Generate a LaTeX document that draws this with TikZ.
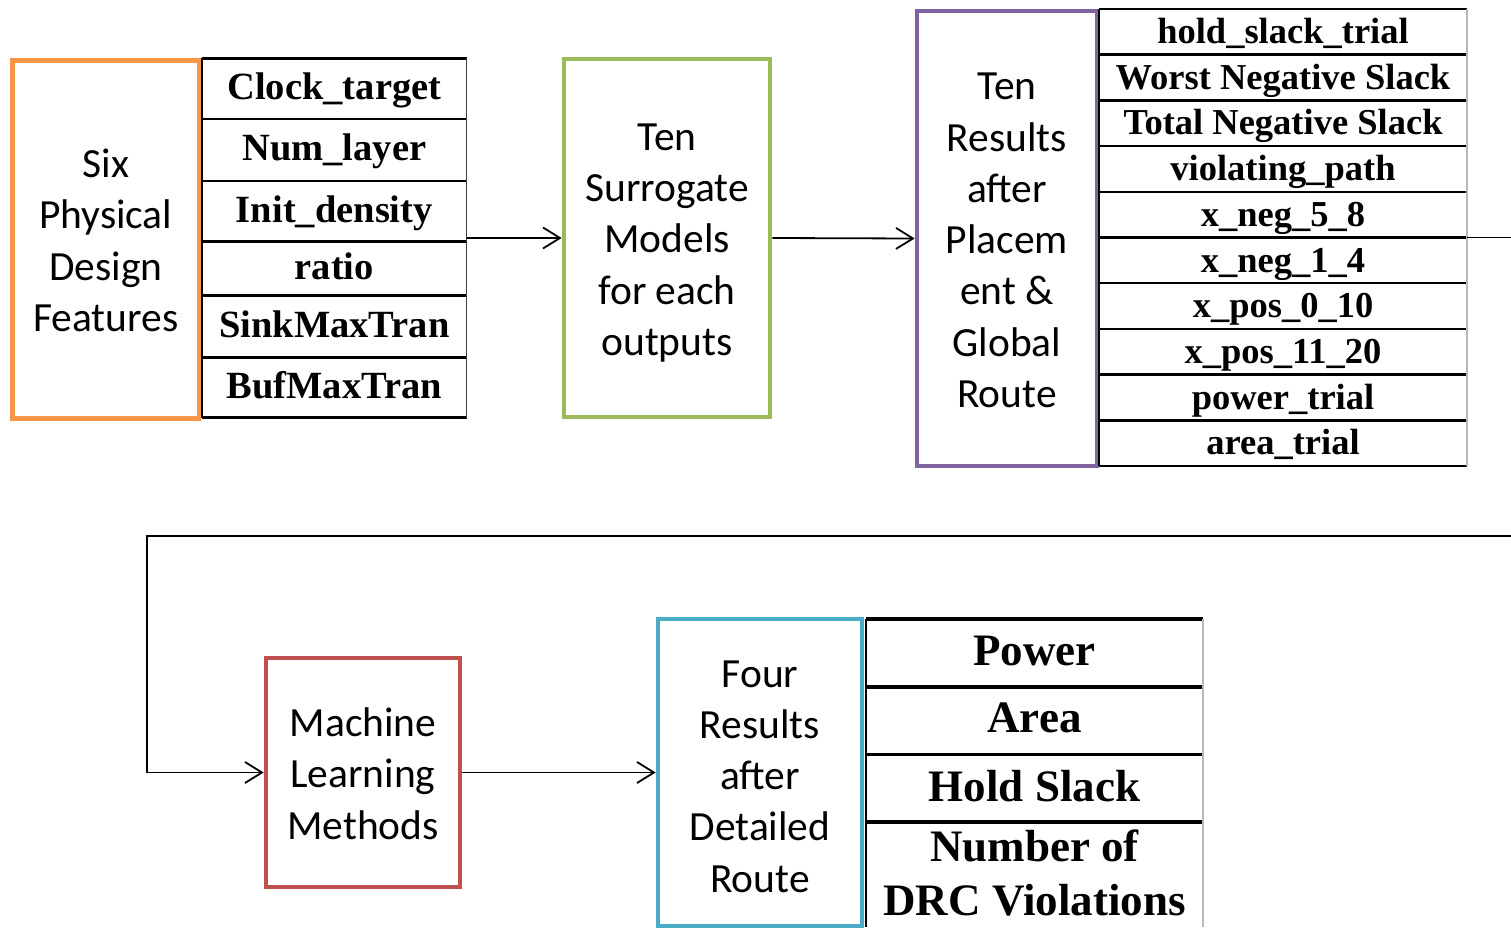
\documentclass[tikz,border=0pt]{standalone}
\usepackage{fontspec}
\usetikzlibrary{arrows.meta,fit}
\newfontfamily\labelfont{Carlito}
\newfontfamily\cellfont{Liberation Serif}
\definecolor{bxorange}{HTML}{F79646}
\definecolor{bxgreen}{HTML}{9BBB59}
\definecolor{bxpurple}{HTML}{8064A2}
\definecolor{bxred}{HTML}{C0504D}
\definecolor{bxblue}{HTML}{4BACC6}
\begin{document}
\begin{tikzpicture}[x=1pt,y=-1pt,
  box/.style={draw, line width=4.6pt, inner sep=0pt},
  boxtext/.style={inner sep=0pt, align=center,
    font=\labelfont\fontsize{41.5}{51.3}\selectfont},
  cell/.style={inner sep=0pt, outer sep=0pt, align=center},
  cellA/.style={cell, minimum width=264.7, text height=30pt, text depth=8.5pt,
    font=\cellfont\bfseries\fontsize{38.5}{46}\selectfont},
  cellB/.style={cell, minimum width=368, text height=30.7pt, text depth=7.3pt,
    font=\cellfont\bfseries\fontsize{36.5}{44}\selectfont},
  cellC/.style={cell, minimum width=337, font=\cellfont\bfseries\fontsize{45}{54}\selectfont},
  rule/.style={draw=black, line width=2.5pt},
  heavyrule/.style={draw=black, line width=3.5pt},
  edgeA/.style={draw=black!75, line width=1pt},
  edgeB/.style={draw=black!28, line width=1.2pt},
  arr/.style={draw=black, line width=1.8pt, -{Straight Barb[length=17pt,width=21pt,line width=1.8pt]}},
]
\useasboundingbox[fill=white] (0,0) rectangle (1511,928);

% process boxes
\node[box, draw=bxorange, minimum width=186.5, minimum height=357.8] (feat) at (105.75,239.4) {};
\node[boxtext] (featT) at (105.75,240.5) {Six\\Physical\\Design\\Features};
\node[box, draw=bxgreen, minimum width=206, minimum height=358] (surr) at (667,238) {};
\node[boxtext] (surrT) at (667,243) {Ten\\Surrogate\\Models\\for each\\outputs};
\node[box, draw=bxpurple, minimum width=180, minimum height=455] (place) at (1007,238.5) {};
\node[boxtext] (placeT) at (1007,240.5) {Ten\\Results\\after\\Placem\\ent \&\\Global\\Route};
\node[box, draw=bxred, minimum width=194, minimum height=229] (ml) at (363,772.5) {};
\node[boxtext] (mlT) at (363,773.5) {Machine\\Learning\\Methods};
\node[box, draw=bxblue, minimum width=204, minimum height=307] (route) at (760,772.5) {};
\node[boxtext] (routeT) at (760,776.5) {Four\\Results\\after\\Detailed\\Route};

% input feature table
\foreach \t/\b/\txt [count=\i] in {58.3/119/Clock\_target, 119/181/Num\_layer,
    181/241.7/Init\_density, 241.7/295.7/ratio, 295.7/357.3/SinkMaxTran,
    357.3/417.7/BufMaxTran}
  \node[cellA, minimum height={\b-\t}] (ta\i) at (334.35,{(\t+\b)/2}) {\txt};
\foreach \i in {1,...,6}
  \draw[rule] (ta\i.north west) -- (ta\i.north east);
\draw[rule] (ta6.south west) -- (ta6.south east);
\draw[rule] (ta1.north west) -- (ta6.south west);
\draw[edgeA] (ta1.north east) -- (ta6.south east);
\node[fit=(ta1)(ta6), inner sep=0pt, outer sep=0pt] (tab1) {};

% placement result table
\foreach \txt [count=\i] in {hold\_slack\_trial, Worst Negative Slack, Total Negative Slack,
    violating\_path, x\_neg\_5\_8, x\_neg\_1\_4, x\_pos\_0\_10, x\_pos\_11\_20,
    power\_trial, area\_trial}
  \node[cellB, minimum height=45.7] (tb\i) at (1283,{9+45.7*(\i-0.5)}) {\txt};
\foreach \i in {1,...,10}
  \draw[rule] (tb\i.north west) -- (tb\i.north east);
\draw[rule] (tb10.south west) -- (tb10.south east);
\draw[rule] (tb1.north west) -- (tb10.south west);
\draw[edgeB] (tb1.north east) -- (tb10.south east);
\node[fit=(tb1)(tb10), inner sep=0pt, outer sep=0pt] (tab2) {};

% detailed route result table
\foreach \t/\b/\txt [count=\i] in {619/687/Power, 687/754.5/Area,
    754.5/822/Hold Slack, 822/929/{Number of\\DRC Violations}}
  \node[cellC, minimum height={\b-\t}] (tc\i) at (1034.5,{(\t+\b)/2-2.5}) {\txt};
\foreach \i in {1,...,4}
  \draw[heavyrule] ([yshift=-2.5pt]tc\i.north west) -- ([yshift=-2.5pt]tc\i.north east);
\draw[rule] ([yshift=-2.5pt]tc1.north west) -- (tc4.south west);
\draw[edgeB] ([yshift=-2.5pt]tc1.north east) -- (tc4.south east);

% connectors
\coordinate (offR) at (1530,536);
\coordinate (bend) at (147,536);
\draw[arr] (tab1.east) -- (surr.west);
\draw[arr] (surr.east) -- (place.west);
\draw[arr] (tab2.east) -| (offR) -- (bend) |- (ml.west);
\draw[arr] (ml.east) -- (route.west);
\end{tikzpicture}
\end{document}
